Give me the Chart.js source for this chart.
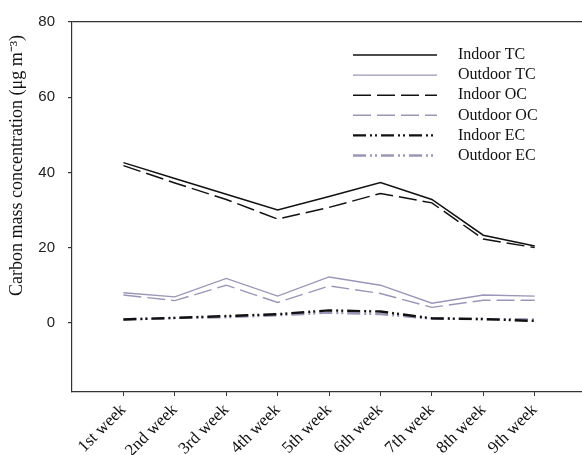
<!DOCTYPE html>
<html>
<head>
<meta charset="utf-8">
<script src="https://cdn.jsdelivr.net/npm/chart.js@4.4.1/dist/chart.umd.min.js"></script>
<style>
  html, body { margin: 0; padding: 0; background: #fff; }
  #wrap { width: 582px; height: 455px; }
</style>
</head>
<body>
<div id="wrap"><canvas id="c" width="582" height="455"></canvas></div>
<script>
// Weekly carbon mass concentrations (µg m-3)
const weeks = ['1st week', '2nd week', '3rd week', '4th week', '5th week', '6th week', '7th week', '8th week', '9th week'];
const indoorTC  = [42.6, 38.4, 34.2, 30.0, 33.6, 37.3, 32.8, 23.3, 20.4];
const outdoorTC = [8.0, 6.9, 11.8, 7.1, 12.2, 10.0, 5.2, 7.4, 7.1];
const indoorOC  = [41.8, 37.2, 32.8, 27.6, 30.7, 34.4, 31.9, 22.3, 20.0];
const outdoorOC = [7.4, 5.9, 10.0, 5.4, 9.8, 7.8, 4.1, 6.0, 6.0];
const indoorEC  = [0.9, 1.3, 1.8, 2.3, 3.3, 3.0, 1.2, 1.0, 0.5];
const outdoorEC = [0.9, 1.3, 1.5, 2.0, 2.7, 2.3, 1.1, 1.0, 0.9];
const yTicks = [0, 20, 40, 60, 80];
const yTitle = 'Carbon mass concentration (\u03bcg m\u207b\u00b3)';

const DARK = '#111111';
const LAV = '#9a96b8';
const DASH = [18, 6];
const DASHDOT = [13, 4, 2, 3, 2, 4];

const toPoints = arr => arr.map((v, i) => ({ x: i + 1, y: v }));

function series(label, data, color, width, dash) {
  return {
    label, data: toPoints(data),
    borderColor: color, backgroundColor: color,
    borderWidth: width, borderDash: dash,
    pointRadius: 0, tension: 0, fill: false
  };
}

// Legend drawn inside the plot, with long line samples
const insideLegend = {
  id: 'insideLegend',
  afterDraw(chart) {
    const ctx = chart.ctx;
    ctx.save();
    chart.data.datasets.forEach((ds, i) => {
      const y = 55 + i * 20.1;
      ctx.beginPath();
      ctx.strokeStyle = ds.borderColor;
      ctx.lineWidth = ds.borderWidth;
      ctx.setLineDash(ds.borderDash);
      ctx.moveTo(353, y);
      ctx.lineTo(437, y);
      ctx.stroke();
      ctx.setLineDash([]);
      ctx.fillStyle = '#111';
      ctx.font = '16px "Liberation Serif", "Times New Roman", serif';
      ctx.textBaseline = 'middle';
      ctx.textAlign = 'left';
      ctx.fillText(ds.label, 458, y);
    });
    ctx.restore();
  }
};

// Vertical axis title
const axisTitle = {
  id: 'axisTitle',
  afterDraw(chart) {
    const ctx = chart.ctx;
    const y0 = chart.scales.y.getPixelForValue(0);
    const y80 = chart.scales.y.getPixelForValue(80);
    ctx.save();
    ctx.translate(17, (y0 + y80) / 2 - 7);
    ctx.rotate(-Math.PI / 2);
    ctx.fillStyle = '#111';
    ctx.font = '18px "Liberation Serif", "Times New Roman", serif';
    ctx.textAlign = 'center';
    ctx.textBaseline = 'middle';
    ctx.fillText(yTitle, 0, 0);
    ctx.restore();
  }
};

new Chart(document.getElementById('c'), {
  type: 'line',
  data: {
    datasets: [
      series('Indoor TC', indoorTC, DARK, 1.5, []),
      series('Outdoor TC', outdoorTC, LAV, 1.4, []),
      series('Indoor OC', indoorOC, DARK, 1.5, DASH),
      series('Outdoor OC', outdoorOC, LAV, 1.4, DASH),
      series('Indoor EC', indoorEC, DARK, 2.4, DASHDOT),
      series('Outdoor EC', outdoorEC, LAV, 2.4, DASHDOT)
    ]
  },
  options: {
    responsive: false,
    animation: false,
    layout: { padding: { top: 22, right: 0, left: 0, bottom: 0 } },
    plugins: { legend: { display: false }, tooltip: { enabled: false } },
    scales: {
      x: {
        type: 'linear',
        min: 0,
        max: 9.92,
        afterBuildTicks: s => { s.ticks = weeks.map((w, i) => ({ value: i + 1 })); },
        afterFit: s => { s.height = 63; },
        ticks: {
          autoSkip: false,
          minRotation: 45,
          maxRotation: 45,
          padding: 4,
          color: '#111',
          font: { family: '"Liberation Serif", "Times New Roman", serif', size: 17 },
          callback: v => weeks[v - 1]
        },
        grid: { drawOnChartArea: false, tickLength: 4, tickColor: '#333', tickWidth: 1 },
        border: { color: '#333', width: 1.2 }
      },
      y: {
        min: -18.4,
        max: 80,
        afterBuildTicks: s => { s.ticks = yTicks.map(v => ({ value: v })); },
        afterFit: s => { s.width = 72; },
        ticks: {
          padding: 13,
          color: '#222',
          font: { family: '"Liberation Sans", Arial, sans-serif', size: 15 }
        },
        grid: {
          drawOnChartArea: true,
          tickLength: 4,
          tickColor: '#333',
          lineWidth: 1.2,
          color: c => (c.tick && c.tick.value === 80 ? '#333' : 'rgba(0,0,0,0)')
        },
        border: { color: '#333', width: 1.2 }
      }
    }
  },
  plugins: [insideLegend, axisTitle]
});
</script>
</body>
</html>
